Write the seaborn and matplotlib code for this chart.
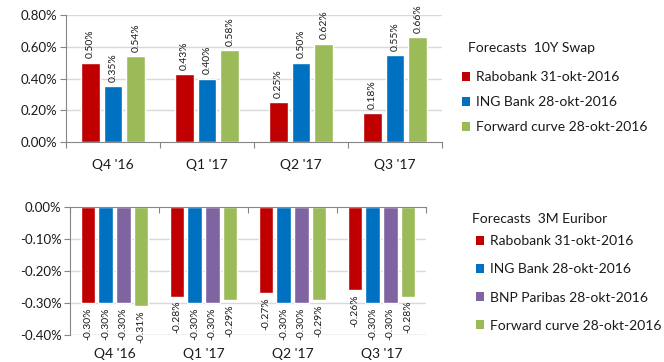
import matplotlib
matplotlib.use("Agg")
import matplotlib.pyplot as plt
from matplotlib.patches import Patch
import numpy as np
import pandas as pd
import seaborn as sns

# Quarters shown on both panels
quarters = ["Q4 '16", "Q1 '17", "Q2 '17", "Q3 '17"]

# 10Y swap forecasts (%)
swap_series = ["Rabobank 31-okt-2016", "ING Bank 28-okt-2016", "Forward curve 28-okt-2016"]
swap_rabobank = [0.50, 0.43, 0.25, 0.18]
swap_ing = [0.35, 0.40, 0.50, 0.55]
swap_forward = [0.54, 0.58, 0.62, 0.66]

# 3M Euribor forecasts (%)
eur_series = ["Rabobank 31-okt-2016", "ING Bank 28-okt-2016",
              "BNP Paribas 28-okt-2016", "Forward curve 28-okt-2016"]
eur_rabobank = [-0.30, -0.28, -0.27, -0.26]
eur_ing = [-0.30, -0.30, -0.30, -0.30]
eur_bnp = [-0.30, -0.30, -0.30, -0.30]
eur_forward = [-0.31, -0.29, -0.29, -0.28]

swap_ticks = [0.0, 0.2, 0.4, 0.6, 0.8]
eur_ticks = [0.0, -0.1, -0.2, -0.3, -0.4]

RED, BLUE, PURPLE, GREEN = "#C00000", "#0070C0", "#8064A2", "#9BBB59"
GRID = "#D9D9D9"
AXIS = "#868686"
TEXT = "#1A1A1A"


def long_frame(series_names, columns):
    rows = []
    for name, vals in zip(series_names, columns):
        for q, v in zip(quarters, vals):
            rows.append({"quarter": q, "series": name, "value": v})
    return pd.DataFrame(rows)


swap_df = long_frame(swap_series, [swap_rabobank, swap_ing, swap_forward])
eur_df = long_frame(eur_series, [eur_rabobank, eur_ing, eur_bnp, eur_forward])

sns.set_theme(style="white")
plt.rcParams["font.family"] = ["Lato", "DejaVu Sans"]

fig = plt.figure(figsize=(6.64, 3.62), dpi=100)
W, H = 664, 362


def axes_px(left, top, right, bottom):
    return fig.add_axes([left / W, 1 - bottom / H, (right - left) / W, (bottom - top) / H])


ax1 = axes_px(66, 15, 442, 142)
ax2 = axes_px(70, 207, 426, 335)


def style_axis(ax, ticks, lim, zero_top, xpad):
    ax.set_ylim(*lim)
    ax.set_yticks(ticks)
    ax.set_yticklabels([f"{t:.2f}%" for t in ticks], fontsize=9.5, color=TEXT)
    ax.set_xlim(-0.5, len(quarters) - 0.5)
    ax.set_xlabel("")
    ax.set_ylabel("")
    for t in ticks:
        if t != 0:
            ax.axhline(t, color=GRID, lw=1, zorder=0)
    for s in ax.spines.values():
        s.set_visible(False)
    ax.spines["left"].set_visible(True)
    ax.spines["left"].set_color(AXIS)
    ax.spines["left"].set_linewidth(0.8)
    ax.tick_params(axis="y", which="major", left=True, length=4, color=AXIS, width=0.8, pad=2)
    ax.tick_params(axis="x", which="major", length=0, labelsize=10, pad=xpad, colors=TEXT)
    ax.set_xticks(np.arange(-0.5, len(quarters)), minor=True)
    if zero_top:
        ax.spines["top"].set_visible(True)
        ax.spines["top"].set_color(AXIS)
        ax.spines["top"].set_linewidth(0.8)
        ax.tick_params(axis="x", which="minor", top=True, bottom=False, direction="in",
                       length=4, color=AXIS, width=0.8)
    else:
        ax.spines["bottom"].set_visible(True)
        ax.spines["bottom"].set_color(AXIS)
        ax.spines["bottom"].set_linewidth(0.8)
        ax.tick_params(axis="x", which="minor", bottom=True, direction="out",
                       length=4, color=AXIS, width=0.8)


# Top panel: 10Y swap
sns.barplot(data=swap_df, x="quarter", y="value", hue="series",
            palette=[RED, BLUE, GREEN], width=0.73, gap=0.17,
            saturation=1, legend=False, ax=ax1, zorder=2)
style_axis(ax1, swap_ticks, (0, 0.8), zero_top=False, xpad=12)
for cont, vals in zip(ax1.containers, [swap_rabobank, swap_ing, swap_forward]):
    ax1.bar_label(cont, labels=[f"{v:.2f}%" for v in vals], rotation=90,
                  padding=3, fontsize=7.5, color=TEXT)

# Bottom panel: 3M Euribor
sns.barplot(data=eur_df, x="quarter", y="value", hue="series",
            palette=[RED, BLUE, PURPLE, GREEN], width=0.79, gap=0.17,
            saturation=1, legend=False, ax=ax2, zorder=2)
style_axis(ax2, eur_ticks, (-0.4, 0), zero_top=True, xpad=9)
ax2.axhline(-0.4, color=GRID, lw=1, zorder=0)
for cont, vals in zip(ax2.containers, [eur_rabobank, eur_ing, eur_bnp, eur_forward]):
    ax2.bar_label(cont, labels=[f"{v:.2f}%" for v in vals], rotation=90,
                  padding=3, fontsize=7.5, color=TEXT)

# Legends with their headings
fig.text(468 / W, 1 - 48 / H, "Forecasts  10Y Swap", fontsize=10, color=TEXT,
         ha="left", va="center")
h1 = [Patch(facecolor=c, edgecolor="none") for c in [RED, BLUE, GREEN]]
fig.legend(h1, swap_series, loc="upper left", bbox_to_anchor=(462 / W, 1 - 71 / H),
           frameon=False, fontsize=10, handlelength=0.6, handleheight=0.6,
           handletextpad=0.4, labelspacing=0.95, borderaxespad=0, borderpad=0,
           labelcolor=TEXT)

fig.text(472 / W, 1 - 219 / H, "Forecasts  3M Euribor", fontsize=10, color=TEXT,
         ha="left", va="center")
h2 = [Patch(facecolor=c, edgecolor="none") for c in [RED, BLUE, PURPLE, GREEN]]
fig.legend(h2, eur_series, loc="upper left", bbox_to_anchor=(476 / W, 1 - 235 / H),
           frameon=False, fontsize=10, handlelength=0.6, handleheight=0.6,
           handletextpad=0.4, labelspacing=1.17, borderaxespad=0, borderpad=0,
           labelcolor=TEXT)

fig.savefig("out.png", dpi=100)
